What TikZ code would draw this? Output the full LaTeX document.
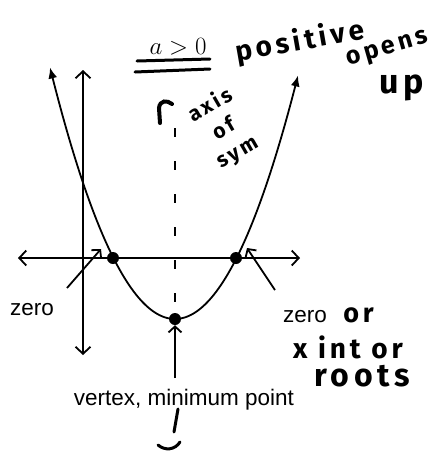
\documentclass[tikz,border=0pt]{standalone}
\usepackage{fontspec}
\setmainfont{Liberation Sans}
\newfontfamily\handfont[LetterSpace=14]{Fira Sans}
\usetikzlibrary{arrows.meta, positioning}

\begin{document}
\begin{tikzpicture}[x=1pt, y=-1pt,
    every node/.style={inner sep=0pt, align=center},
    axisline/.style={line width=1.8pt, {Straight Barb[length=7pt, width=15pt]}-{Straight Barb[length=7pt, width=15pt]}},
    curve/.style={line width=1.8pt, {Latex[length=11pt, width=9pt]}-{Latex[length=11pt, width=9pt]}},
    pointer/.style={line width=1.8pt, -{Straight Barb[length=6pt, width=13pt]}},
    dot/.style={circle, fill=black, minimum size=12pt},
    label/.style={font=\fontsize{22.5}{25}\selectfont},
    hand/.style={font=\handfont\bfseries\fontsize{#1}{#1}\selectfont},
    marker/.style={line width=3pt, line cap=round}
  ]
    \useasboundingbox (0,0) rectangle (436,451);

    % axes
    \draw[axisline] (18,258) -- (300,258);
    \draw[axisline] (83,355) -- (83,70);

    % parabola, vertex at (175,319)
    \draw[curve] plot[domain=-125:123, smooth, samples=60] ({175+\x}, {319-0.0161*\x*\x});
    \draw[line width=1.3pt, dash pattern=on 9pt off 24pt] (175,128) -- (175,312);

    \node[dot] (zeroL) at (113,258) {};
    \node[dot] (zeroR) at (236,258) {};
    \node[dot] (vertex) at (175,319) {};

    % condition and words at the top
    \node (cond) at (178,47) {\fontsize{23}{26}\selectfont$a>0$};
    \draw[marker] (137,61) -- (210,59);
    \draw[marker] (135,72) -- (210,69);
    \node[hand=28, rotate=10] (posw) at (300,42) {positive};
    \node[hand=25, rotate=16] (opens) at (388,50) {opens};
    \node[hand=34] (up) at (402,88) {up};

    % axis of symmetry
    \draw[marker, line width=4pt] (160,123) -- (159,108) .. controls (160,100) and (167,100) .. (172,104);
    \node[hand=21, rotate=30, font=\handfont\bfseries\fontsize{21}{27}\selectfont] (axisw) at (224,129) {axis\\of\\sym};

    % zeros
    \node[label] (zeroLt) at (32,310) {zero};
    \node[label] (zeroRt) at (305,317) {zero};
    \node[hand=27, right=16pt of zeroRt, yshift=2pt] (orw) {or};
    \node[hand=28] (xint) at (348,347) {x int or};
    \node[hand=32] (roots) at (362,376) {roots};
    \coordinate (pl) at (67,288);
    \coordinate (pr) at (275,290);
    \draw[pointer] (pl) -- ([shift={(-12pt,9pt)}]zeroL.center);
    \draw[pointer] (pr) -- ([shift={(11pt,10pt)}]zeroR.center);

    % vertex
    \node[label] (vtext) at (184,400) {vertex, minimum point};
    \coordinate (pv) at (175,378);
    \draw[pointer] (pv) -- (vertex.south);
    \draw[marker] (178,409) -- (174,432);
    \draw[marker] (158,445) .. controls (165,451) and (175,450) .. (180,442);
  \end{tikzpicture}
\end{document}
